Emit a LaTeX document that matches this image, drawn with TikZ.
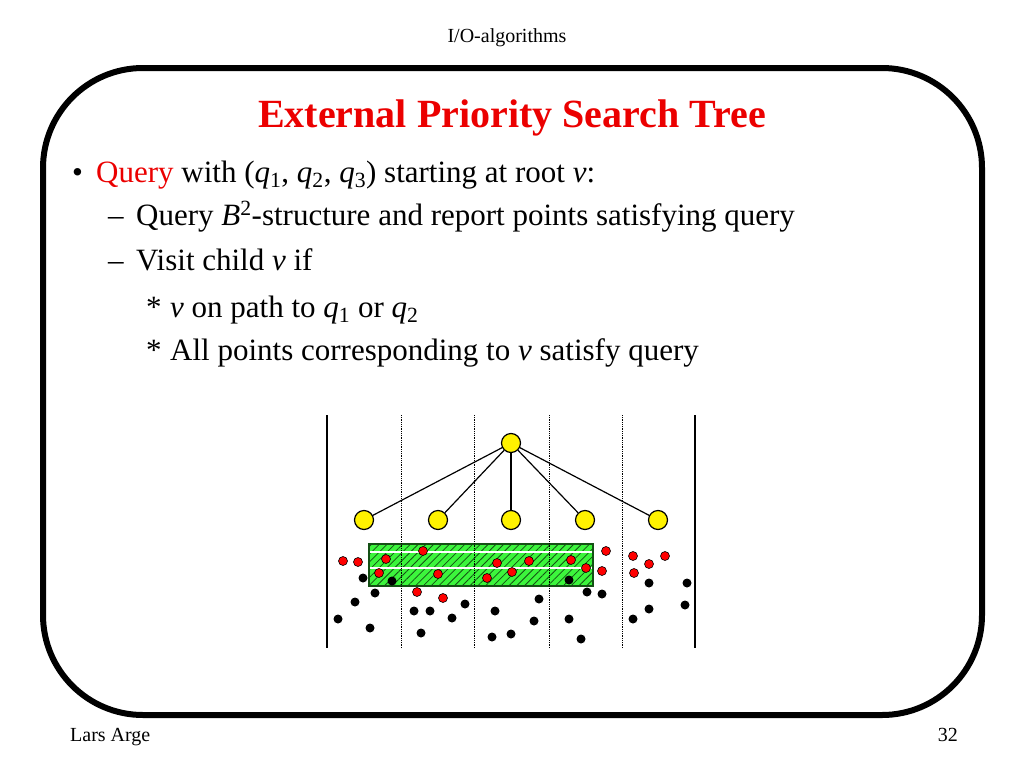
\documentclass[tikz,border=0pt]{standalone}
\usepackage{fontspec}
\setmainfont{Liberation Serif}
\usetikzlibrary{patterns.meta}
\definecolor{slidered}{RGB}{235,0,0}
\definecolor{boxgreen}{RGB}{60,245,60}
\definecolor{hatchgreen}{RGB}{20,80,20}
\newcommand{\qi}[1]{\textit{q}\textsubscript{#1}}
\tikzset{
  treenode/.style={draw, circle, fill=yellow, line width=1.2pt, minimum size=19pt, inner sep=0pt},
  reddot/.style={draw, circle, fill=red, line width=0.6pt, minimum size=9pt, inner sep=0pt},
  blackdot/.style={circle, fill=black, minimum size=9pt, inner sep=0pt},
  bodytext/.style={anchor=base west, inner sep=0pt, font=\fontsize{31}{36}\selectfont},
  smalltext/.style={anchor=base, inner sep=0pt, font=\fontsize{20}{24}\selectfont},
  slab/.style={line width=1.3pt},
  slabdiv/.style={densely dotted, line width=0.8pt}
}
\begin{document}
\begin{tikzpicture}[x=1pt, y=-1pt]
    \useasboundingbox (0,0) rectangle (1024,768);
    % frame
    \draw[line width=6pt, rounded corners=100pt] (43,68) rectangle (982,715);
    % header and footer
    \node[smalltext] (head) at (507,42) {I/O-algorithms};
    \node[smalltext, anchor=base west] (author) at (70,741) {Lars Arge};
    \node[smalltext, anchor=base east] (page) at (958,741) {32};
    % title
    \node[anchor=base, inner sep=0pt, text=slidered, font=\fontsize{40}{46}\selectfont\bfseries] (title) at (512,127) {External Priority Search Tree};
    % bullets
    \node[bodytext] (m1) at (72,182) {\textbullet};
    \node[bodytext] (l1) at (96,182) {\textcolor{slidered}{Query} with (\qi{1}, \qi{2}, \qi{3}) starting at root \textit{v}:};
    \node[bodytext] (m2) at (108,225) {--};
    \node[bodytext] (l2) at (136,225) {Query \textit{B}\textsuperscript{2}-structure and report points satisfying query};
    \node[bodytext] (m3) at (108,270) {--};
    \node[bodytext] (l3) at (136,270) {Visit child \textit{v} if};
    \node[bodytext] (m4) at (146,317) {*};
    \node[bodytext] (l4) at (170,317) {\textit{v} on path to \qi{1} or \qi{2}};
    \node[bodytext] (m5) at (146,360) {*};
    \node[bodytext] (l5) at (170,360) {All points corresponding to \textit{v} satisfy query};
    % query box
    \fill[boxgreen] (369,544) rectangle (593,586);
    \fill[pattern={Lines[angle=45, distance=5.5pt, line width=0.8pt]}, pattern color=hatchgreen] (369,544) rectangle (593,586);
    \draw[white, line width=1.2pt] (369,552) -- (593,552);
    \draw[white, line width=1.2pt] (369,568) -- (593,568);
    \draw[hatchgreen, line width=1.3pt] (369,544) rectangle (593,586);
    % slabs
    \draw[slab] (327,415) -- (327,648);
    \draw[slab] (695,415) -- (695,648);
    \foreach \sx in {401,474,549,622}
        \draw[slabdiv] (\sx,415) -- (\sx,648);
    % tree
    \node[treenode] (root) at (511,443) {};
    \node[treenode] (c1) at (364,520) {};
    \node[treenode] (c2) at (438,520) {};
    \node[treenode] (c3) at (511,520) {};
    \node[treenode] (c4) at (585,520) {};
    \node[treenode] (c5) at (658,520) {};
    \foreach \c in {c1,c2,c3,c4,c5}
        \draw[line width=1.2pt] (root) -- (\c);
    % points
    \foreach \px/\py [count=\i] in {343/561,358/562,386/559,423/551,379/573,438/574,497/563,529/561,512/572,487/578,571/560,586/568,606/551,602/571,633/556,649/564,665/556,634/573,417/592,443/598}
        \node[reddot] (r\i) at (\px,\py) {};
    \foreach \px/\py [count=\i] in {363/578,392/581,375/593,355/602,338/619,370/628,414/611,430/611,465/604,452/618,421/633,495/611,539/599,534/621,492/637,511/634,569/580,587/592,602/594,569/619,581/639,649/583,687/583,649/609,685/605,633/619}
        \node[blackdot] (k\i) at (\px,\py) {};
\end{tikzpicture}
\end{document}
